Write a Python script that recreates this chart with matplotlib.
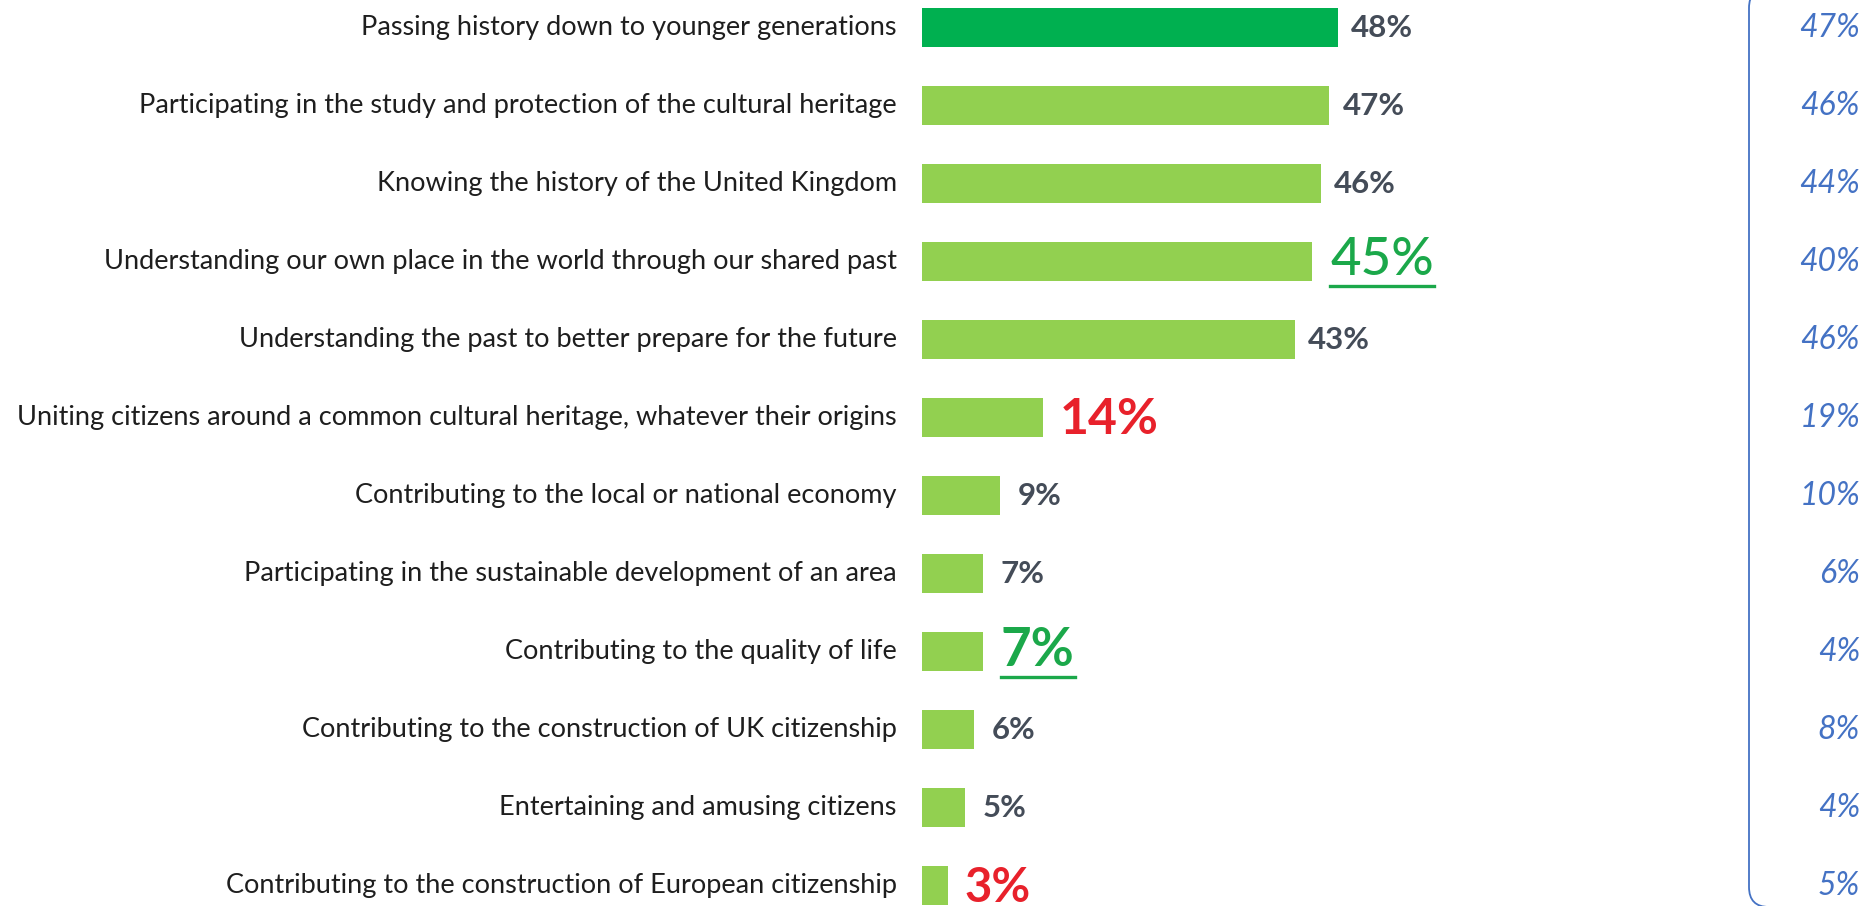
import matplotlib
matplotlib.use('Agg')
from matplotlib import pyplot as plt
from matplotlib.patches import FancyBboxPatch
from matplotlib.lines import Line2D
from matplotlib.transforms import Affine2D

plt.rcParams['font.family'] = ['Lato', 'DejaVu Sans']

categories = [
    'Passing history down to younger generations',
    'Participating in the study and protection of the cultural heritage',
    'Knowing the history of the United Kingdom',
    'Understanding our own place in the world through our shared past',
    'Understanding the past to better prepare for the future',
    'Uniting citizens around a common cultural heritage, whatever their origins',
    'Contributing to the local or national economy',
    'Participating in the sustainable development of an area',
    'Contributing to the quality of life',
    'Contributing to the construction of UK citizenship',
    'Entertaining and amusing citizens',
    'Contributing to the construction of European citizenship',
]
uk_values = [48, 47, 46, 45, 43, 14, 9, 7, 7, 6, 5, 3]
eu_values = [47, 46, 44, 40, 46, 19, 10, 6, 4, 8, 4, 5]
# label style per row: normal / higher (green, underlined) / lower (red)
highlight = ['normal', 'normal', 'normal', 'up', 'normal', 'down',
             'normal', 'normal', 'up', 'normal', 'normal', 'down']

W, H = 1876, 906
fig = plt.figure(figsize=(W / 100, H / 100), dpi=100)
ax = fig.add_axes([0, 0, 1, 1])
ax.axis('off')

# pixel layout: bars start at x=922px, 8.67px per percent, rows 78px apart
x0, scale = 922, 8.67
row0, step = 28, 78.0
ax.set_xlim(-x0 / scale, (W - x0) / scale)
ax.set_ylim((H - row0) / step, -row0 / step)

rows = list(range(len(categories)))
colors = ['#00B050'] + ['#92D050'] * (len(categories) - 1)
ax.barh(rows, uk_values, height=0.5, color=colors)

# category labels on the left
for y, cat in zip(rows, categories):
    ax.text(-2.9, y, cat, ha='right', va='center', fontsize=19.5,
            color='#1e1e1e')

# value labels
underline = []
for y, v, kind in zip(rows, uk_values, highlight):
    if kind == 'up':
        t = ax.text(v + 2.1, y - 0.02, f'{v}%', ha='left', va='center',
                    fontsize=38,
                    fontweight='medium' if v > 20 else 'bold',
                    color='#1BA84A')
        underline.append(t)
    elif kind == 'down':
        ax.text(v + 1.9, y + 0.02, f'{v}%', ha='left', va='center',
                fontsize=36 if v > 5 else 34, fontweight='bold',
                color='#E8212B')
    else:
        gap = 1.5 if v > 40 else 2.0
        ax.text(v + gap, y, f'{v}%', ha='left', va='center', fontsize=22.5,
                fontweight='bold', color='#444c58')

# right column (comparison values)
for y, v in zip(rows, eu_values):
    ax.text((1860 - x0) / scale, y, f'{v}%', ha='right', va='center',
            fontsize=23, style='italic', color='#4472C4')

# rounded bracket around the right column, in pixel coords from top-left
px = Affine2D().scale(1 / W, -1 / H).translate(0, 1) + fig.transFigure
bracket = FancyBboxPatch((1749, -12), 300, 919,
                         boxstyle='round,pad=0,rounding_size=20',
                         fill=False, ec='#4472C4', lw=1.3,
                         transform=px, clip_on=False)
fig.patches.append(bracket)

# underline highlighted labels
fig.canvas.draw()
for t in underline:
    bb = t.get_window_extent()
    fig.lines.append(Line2D([bb.x0, bb.x1], [bb.y0 - 2, bb.y0 - 2],
                            color='#1BA84A', lw=2.4, transform=None))

fig.savefig('out.png', dpi=100)
